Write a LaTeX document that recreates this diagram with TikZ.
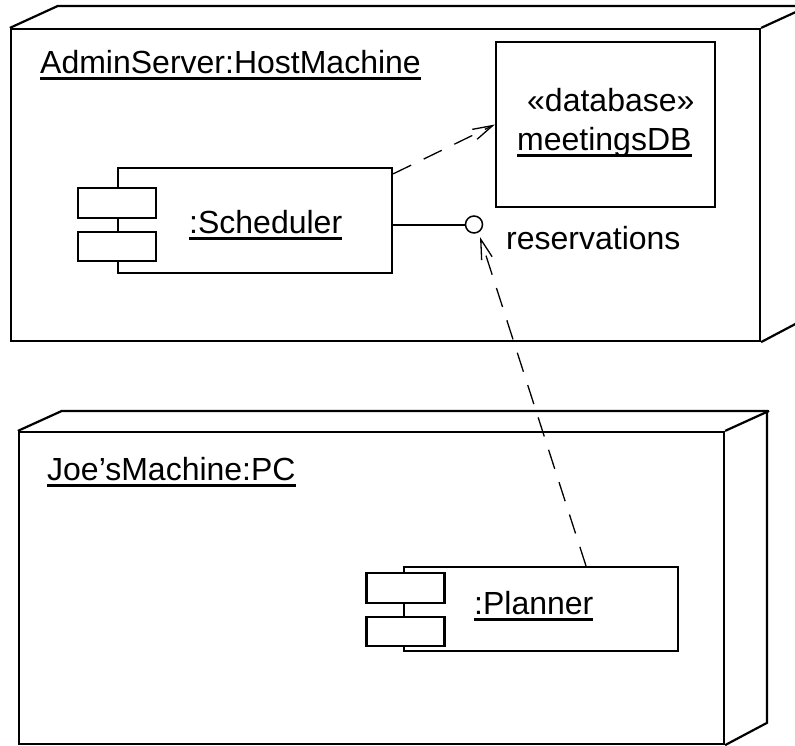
\documentclass[tikz,border=0pt]{standalone}
\usepackage{fontspec}
\setmainfont{Liberation Sans}
\usetikzlibrary{arrows.meta,calc}
\newcommand{\ulx}[1]{\setbox0=\hbox{#1}\rlap{\rule[-6.5pt]{\wd0}{2.6pt}}\box0}
\begin{document}
\begin{tikzpicture}[x=1pt,y=-1pt,
  lbl/.style={inner sep=0pt, anchor=base west, font=\fontsize{32}{38}\selectfont},
  frontbox/.style={draw, line width=2.2pt, inner sep=0pt},
  depthline/.style={line width=2.2pt, line join=miter},
  compbox/.style={draw, line width=2.2pt, inner sep=0pt, fill=white, minimum width=274pt},
  tab/.style={draw, line width=2.2pt, fill=white, minimum width=78pt, minimum height=30pt, inner sep=0pt},
  deppath/.style={line width=1.3pt, dash pattern=on 20pt off 14pt, -{Straight Barb[length=20pt,width=11pt]}},
]
\useasboundingbox (0,0) rectangle (795,745);
\clip (0,0) rectangle (795,745);

% AdminServer node
\node[frontbox, minimum width=749pt, minimum height=312pt] (admin) at (385.5,185) {};
\draw[depthline] (admin.north west) -- ++(48,-22) -- ++(749,0) -- ++(0,312) -- (admin.south east);
\draw[depthline] (admin.north east) -- ++(48,-22);
\node[lbl] (adminlbl) at (40,73) {\ulx{AdminServer:HostMachine}};

% database
\node[frontbox, minimum width=219pt, minimum height=165pt] (db) at (605.5,124.5) {};
\node[lbl] (dbst) at (527,111) {«database»};
\node[lbl] (dbname) at (517,150) {\ulx{meetingsDB}};

% Scheduler component
\node[compbox, minimum height=105pt] (sched) at (255,220.5) {};
\node[tab] (s1) at (117,203) {};
\node[tab, minimum height=29pt] (s2) at (117,246.5) {};
\node[lbl] (schedlbl) at (189,233) {\ulx{:Scheduler}};

% interface lollipop
\node[draw, circle, line width=1.5pt, minimum size=17pt, inner sep=0pt] (iface) at (474,224.5) {};
\draw[line width=2pt] (sched.east |- iface) -- (iface.west);
\node[lbl] (ifacelbl) at (506,249) {reservations};

% Joe's machine node
\node[frontbox, minimum width=705pt, minimum height=312pt] (joe) at (371.5,588) {};
\draw[depthline] (joe.north west) -- ++(44,-20) -- ++(705,0) -- ++(0,312) -- (joe.south east);
\draw[depthline] (joe.north east) -- ++(44,-20);
\node[lbl] (joelbl) at (47,480) {\ulx{Joe’sMachine:PC}};

% Planner component
\node[compbox, minimum height=84pt] (planner) at (541,609) {};
\node[tab] (p1) at (405.5,588) {};
\node[tab, minimum height=29pt] (p2) at (405.5,631.5) {};
\node[lbl] (plannerlbl) at (474,614) {\ulx{:Planner}};

% dependencies
\coordinate (tip) at (480,237);
\draw[deppath] ([yshift=-7pt]sched.north east) -- (db.west);
\draw[deppath] ([xshift=45pt]planner.north) -- (tip);
\end{tikzpicture}
\end{document}
